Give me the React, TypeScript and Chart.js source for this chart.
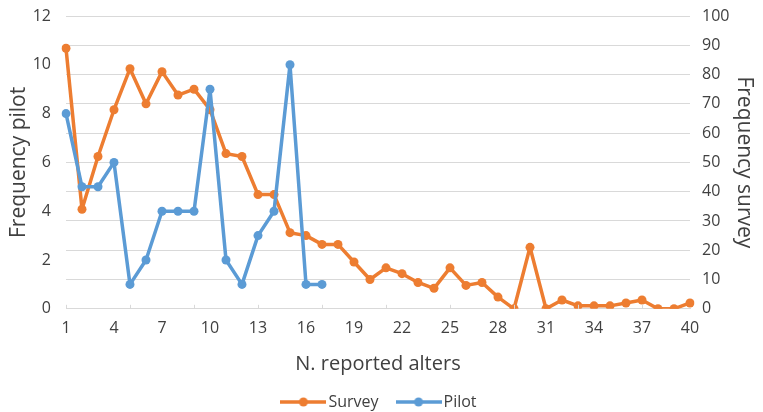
import React, { useEffect, useRef } from "react";
import { Chart, registerables } from "chart.js";

Chart.register(...registerables);

const categories: string[] = Array.from({ length: 40 }, (_, i) => String(i + 1));

const surveyValues: number[] = [
  89, 34, 52, 68, 82, 70, 81, 73, 75, 68,
  53, 52, 39, 39, 26, 25, 22, 22, 16, 10,
  14, 12, 9, 7, 14, 8, 9, 4, 0, 21,
  0, 3, 1, 1, 1, 2, 3, 0, 0, 2,
];

const pilotValues: (number | null)[] = [
  8, 5, 5, 6, 1, 2, 4, 4, 4, 9,
  2, 1, 3, 4, 10, 1, 1, null, null, null,
  null, null, null, null, null, null, null, null, null, null,
  null, null, null, null, null, null, null, null, null, null,
];

const pilotTicks = { min: 0, max: 12, step: 2 };
const surveyTicks = { min: 0, max: 100, step: 10 };

const ORANGE = "#ED7D31";
const BLUE = "#5B9BD5";
const FONT = "'Open Sans', sans-serif";
const TEXT = "#404040";
const GRID = "#d9d9d9";

function legendIcon(color: string): HTMLCanvasElement {
  const c = document.createElement("canvas");
  c.width = 46;
  c.height = 12;
  const g = c.getContext("2d")!;
  g.strokeStyle = color;
  g.lineWidth = 3.5;
  g.beginPath();
  g.moveTo(0, 6);
  g.lineTo(46, 6);
  g.stroke();
  g.fillStyle = color;
  g.beginPath();
  g.arc(23, 6, 4.5, 0, Math.PI * 2);
  g.fill();
  return c;
}

const xTickMarks = {
  id: "xTickMarks",
  afterDatasetsDraw(chart: any) {
    const x = chart.scales.x;
    const y = chart.chartArea.bottom;
    const ctx = chart.ctx;
    ctx.save();
    ctx.strokeStyle = GRID;
    ctx.lineWidth = 1;
    for (let i = 0; i < categories.length; i += 4) {
      const px = Math.round(x.getPixelForValue(i)) + 0.5;
      ctx.beginPath();
      ctx.moveTo(px, y);
      ctx.lineTo(px, y - 4);
      ctx.stroke();
    }
    ctx.restore();
  },
};

export default function App() {
  const ref = useRef<HTMLCanvasElement | null>(null);
  useEffect(() => {
    if (!ref.current) return;
    const chart = new Chart(ref.current, {
      type: "line",
      data: {
        labels: categories,
        datasets: [
          {
            label: "Survey",
            data: surveyValues,
            yAxisID: "y1",
            borderColor: ORANGE,
            backgroundColor: ORANGE,
            borderWidth: 3.5,
            borderJoinStyle: "round",
            pointRadius: 4.5,
            pointBorderWidth: 0,
            pointBackgroundColor: ORANGE,
            order: 2,
            tension: 0,
          },
          {
            label: "Pilot",
            data: pilotValues,
            yAxisID: "y",
            borderColor: BLUE,
            backgroundColor: BLUE,
            borderWidth: 3.5,
            borderJoinStyle: "round",
            pointRadius: 4.5,
            pointBorderWidth: 0,
            pointBackgroundColor: BLUE,
            order: 1,
            tension: 0,
            spanGaps: false,
          },
        ],
      },
      options: {
        animation: false,
        responsive: true,
        maintainAspectRatio: false,
        layout: { padding: { left: 0, right: 0, top: 0, bottom: -8 } },
        plugins: {
          tooltip: { enabled: false },
          legend: {
            position: "bottom",
            labels: {
              color: TEXT,
              font: { family: FONT, size: 16 },
              usePointStyle: true,
              pointStyleWidth: 34,
              boxHeight: 12,
              padding: 23,
              sort: (a: any, b: any) => a.datasetIndex - b.datasetIndex,
              generateLabels: (chart: any) =>
                chart.data.datasets.map((ds: any, i: number) => ({
                  text: ds.label,
                  datasetIndex: i,
                  pointStyle: legendIcon(ds.borderColor),
                  fillStyle: ds.borderColor,
                  strokeStyle: ds.borderColor,
                  fontColor: TEXT,
                  lineWidth: 0,
                  hidden: false,
                })),
            },
          },
        },
        scales: {
          x: {
            type: "category",
            offset: false,
            grid: { display: false, drawTicks: false },
            border: { display: true, color: GRID, width: 1 },
            ticks: {
              autoSkip: false,
              maxRotation: 0,
              color: TEXT,
              padding: 10,
              font: { family: FONT, size: 16 },
              callback: (_v: any, i: number) => (i % 3 === 0 ? categories[i] : ""),
            },
            title: {
              display: true,
              text: "N. reported alters",
              color: TEXT,
              font: { family: FONT, size: 20 },
              padding: { top: 4, bottom: -5 },
            },
          },
          y: {
            position: "left",
            min: pilotTicks.min,
            max: pilotTicks.max,
            afterFit: (s: any) => { s.width = 66; s.paddingTop = 16; s.paddingBottom = 10; },
            grid: { display: false, drawTicks: false },
            border: { display: false },
            ticks: {
              stepSize: pilotTicks.step,
              color: TEXT,
              padding: 15,
              font: { family: FONT, size: 16 },
            },
            title: {
              display: true,
              text: "Frequency pilot",
              color: TEXT,
              font: { family: FONT, size: 21 },
              padding: { top: 6, bottom: 0 },
            },
          },
          y1: {
            position: "right",
            min: surveyTicks.min,
            max: surveyTicks.max,
            afterFit: (s: any) => { s.width = 73; s.paddingTop = 16; s.paddingBottom = 10; },
            grid: { color: GRID, drawTicks: false, lineWidth: 1 },
            border: { display: false },
            ticks: {
              stepSize: surveyTicks.step,
              color: TEXT,
              padding: 12,
              font: { family: FONT, size: 16 },
            },
            title: {
              display: true,
              text: "Frequency survey",
              color: TEXT,
              font: { family: FONT, size: 21 },
              padding: { top: 6, bottom: 0 },
            },
          },
        },
      },
      plugins: [xTickMarks],
    });
    return () => chart.destroy();
  }, []);

  return (
    <div style={{ position: "fixed", left: 0, top: 0, width: 763, height: 412, background: "#fff" }}>
      <canvas ref={ref} />
    </div>
  );
}
